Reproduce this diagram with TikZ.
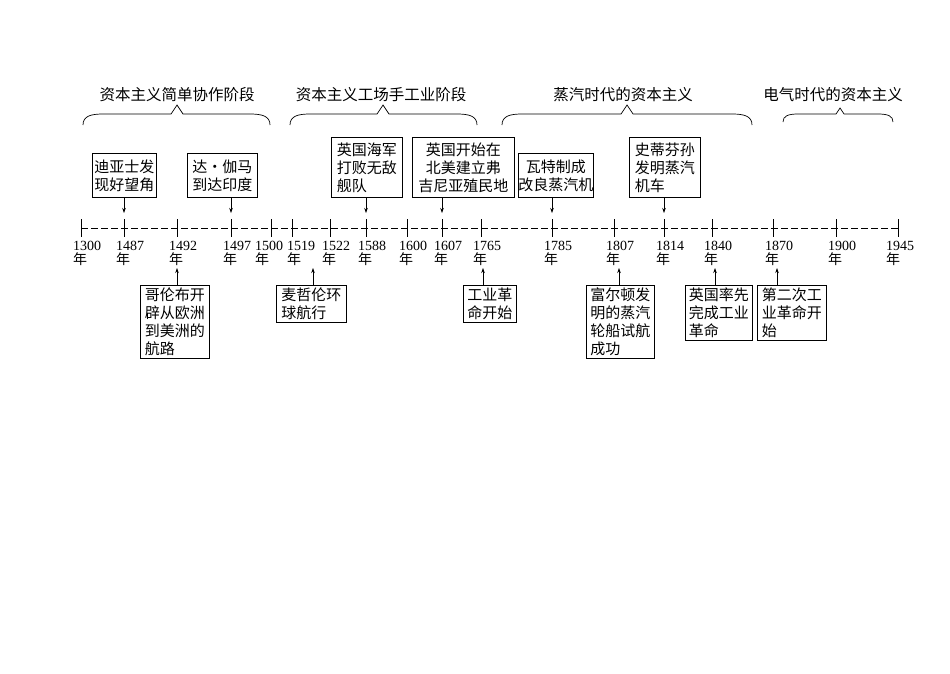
\documentclass[tikz,border=0pt]{standalone}
\usepackage{fontspec}
\setmainfont{Liberation Serif}
\newfontfamily\cjk{Noto Sans CJK SC}
\usetikzlibrary{arrows.meta}
\begin{document}
\begin{tikzpicture}[x=1pt,y=-1pt,
  box/.style={draw,line width=0.8pt,anchor=north west,inner sep=0pt,font=\cjk\fontsize{15}{18}\selectfont,align=left},
  arr/.style={-{Stealth[length=5pt,width=3.5pt]},line width=0.6pt},
  yr/.style={font=\fontsize{14}{15}\selectfont,align=left,anchor=north west,inner sep=0pt},
  ttl/.style={font=\cjk\fontsize{15.5}{18}\selectfont},
  brc/.style={line width=0.7pt}]
\useasboundingbox (0,0) rectangle (950,673);
% titles
\node[ttl] (t1) at (177,95) {资本主义简单协作阶段};
\node[ttl] (t2) at (381,95) {资本主义工场手工业阶段};
\node[ttl] (t3) at (623,95) {蒸汽时代的资本主义};
\node[ttl] (t4) at (833,95) {电气时代的资本主义};
% braces
\newcommand\mybrace[4]{\draw[brc] (#1,#4+14) .. controls (#1,#4+5) and (#1+8,#4+3) .. (#1+20,#4+3) -- (#3-6,#4+3) -- (#3,#4-6) -- (#3+6,#4+3) -- (#2-20,#4+3) .. controls (#2-8,#4+3) and (#2,#4+5) .. (#2,#4+14);}
\mybrace{83}{270}{177}{111}
\mybrace{290}{477}{383}{111}
\mybrace{502}{752}{627}{111}
\draw[brc] (783,122) .. controls (783,116) and (788,114) .. (798,114) -- (836,114) -- (840,108) -- (844,114) -- (878,114) .. controls (888,114) and (893,116) .. (893,122);
% axis
\draw[line width=0.7pt,dash pattern=on 7pt off 3pt] (81,228) -- (898,228);
\foreach \x/\y/\o [count=\i] in {81/1300/8,124/1487/8,177/1492/8,231/1497/8,271/1500/16,292/1519/5,330/1522/8,366/1588/8,407/1600/8,442/1607/8,481/1765/8,552/1785/8,614/1807/8,664/1814/8,712/1840/8,773/1870/8,836/1900/8,898/1945/12}{
  \draw[line width=0.7pt] (\x,219) -- (\x,237);
  \coordinate (k\i) at (\x,228);
  \node[yr] (y\i) at (\x-\o,241) {\y\\[-1pt]{\cjk 年}};
}
% top boxes
\node[box,minimum width=64,minimum height=44] (b1) at (92,153) {迪亚士发\\现好望角};
\node[box,minimum width=70,minimum height=44] (b2) at (187,153) {达·伽马\\到达印度};
\node[box,minimum width=71,minimum height=60] (b3) at (331,137) {英国海军\\打败无敌\\舰队};
\node[box,minimum width=102,minimum height=60,align=center] (b4) at (412,137) {英国开始在\\北美建立弗\\吉尼亚殖民地};
\node[box,minimum width=70,minimum height=44,align=center] (b5) at (518,153) {瓦特制成\\改良蒸汽机};
\node[box,minimum width=71,minimum height=60] (b6) at (629,137) {史蒂芬孙\\发明蒸汽\\机车};
\foreach \b/\x in {b1/124,b2/231,b3/366,b4/442,b5/552,b6/664}{
  \draw[arr] (\b.south -| \x,0) -- (\x,213);
}
% bottom boxes
\node[box,minimum width=69,minimum height=73] (c1) at (140,285) {哥伦布开\\辟从欧洲\\到美洲的\\航路};
\node[box,minimum width=70,minimum height=37] (c2) at (276,285) {麦哲伦环\\球航行};
\node[box,minimum width=53,minimum height=37] (c3) at (463,285) {工业革\\命开始};
\node[box,minimum width=68,minimum height=73] (c4) at (586,285) {富尔顿发\\明的蒸汽\\轮船试航\\成功};
\node[box,minimum width=67,minimum height=55] (c5) at (685,285) {英国率先\\完成工业\\革命};
\node[box,minimum width=69,minimum height=55] (c6) at (757,285) {第二次工\\业革命开\\始};
\foreach \b/\x in {c1/177,c2/313,c3/483,c4/619,c5/715,c6/777}{
  \draw[arr] (\b.north -| \x,0) -- (\x,268);
}
\end{tikzpicture}
\end{document}
